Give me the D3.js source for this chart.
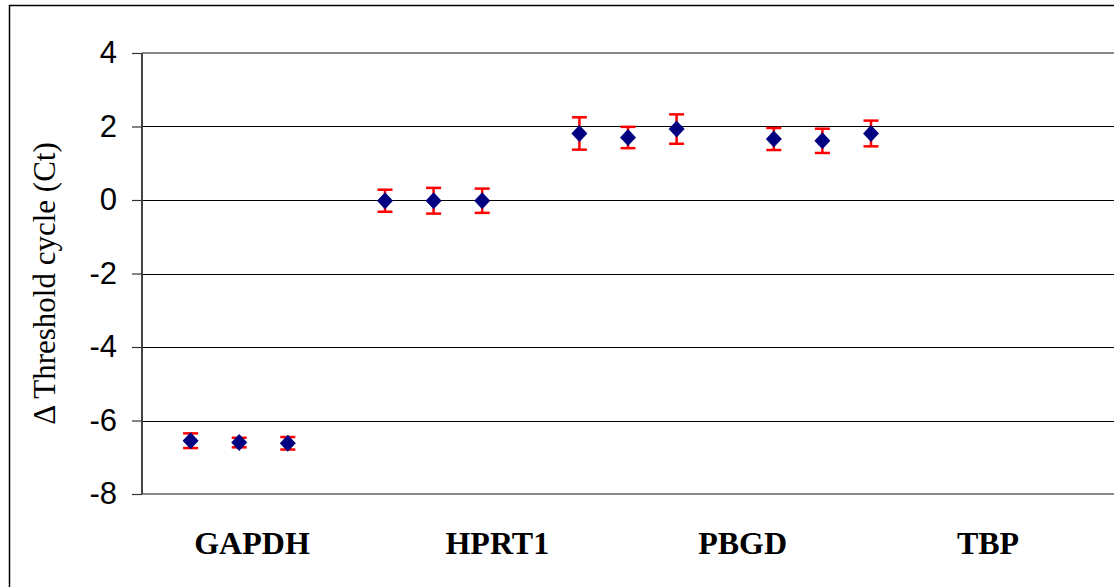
<!DOCTYPE html>
<html>
<head>
<meta charset="utf-8">
<script src="https://cdn.jsdelivr.net/npm/d3@7"></script>
<style>
  body { margin: 0; background: #fff; }
  svg { display: block; }
</style>
</head>
<body>
<svg id="chart"></svg>
<script>
// gene groups shown under the axis
var genes = ["GAPDH", "HPRT1", "PBGD", "TBP"];
// x slot of each point (20 slots across the plot)
var slots = [1, 2, 3, 5, 6, 7, 9, 10, 11, 13, 14, 15];
// delta Ct means and error (+/-)
var means = [-6.55, -6.6, -6.62, -0.02, -0.02, -0.02, 1.81, 1.7, 1.93, 1.66, 1.61, 1.81];
var errs = [0.2, 0.13, 0.17, 0.3, 0.35, 0.33, 0.44, 0.29, 0.4, 0.3, 0.33, 0.35];
var yTicks = [-8, -6, -4, -2, 0, 2, 4];

var W = 1114, H = 587;
var margin = { top: 53, right: 0, bottom: 93, left: 142 },
	width = W - margin.left - margin.right,
	height = H - margin.top - margin.bottom;

var svg = d3.select("#chart")
	.attr("width", W)
	.attr("height", H);

// outer frame (only top and left show)
svg.append("rect")
	.attr("x", 9.5).attr("y", 5.5)
	.attr("width", W + 20).attr("height", H + 20)
	.attr("fill", "none")
	.attr("stroke", "#000")
	.attr("stroke-width", 1.5);

var g = svg.append("g")
	.attr("transform", "translate(" + margin.left + "," + margin.top + ")");

var x = d3.scaleLinear().domain([0, 20]).range([0, width]);
var y = d3.scaleLinear().domain([-8, 4]).range([height, 0]);

// gridlines
g.append("g").selectAll("line")
	.data(yTicks.filter(function (d) { return d > -8 && d < 4; }))
	.enter().append("line")
	.attr("x1", 0).attr("x2", width)
	.attr("y1", function (d) { return Math.round(y(d)) + 0.5; })
	.attr("y2", function (d) { return Math.round(y(d)) + 0.5; })
	.attr("stroke", "#000")
	.attr("stroke-width", 1);

// top border & bottom axis (gray)
[4, -8].forEach(function (v) {
	g.append("line")
		.attr("x1", 0).attr("x2", width)
		.attr("y1", y(v)).attr("y2", y(v))
		.attr("stroke", "#888")
		.attr("stroke-width", 2);
});

// y axis
var yAxis = d3.axisLeft(y)
	.tickValues(yTicks)
	.tickSize(10)
	.tickPadding(15)
	.tickFormat(d3.format("d"));

var ya = g.append("g").call(yAxis);
ya.select(".domain")
	.attr("stroke", "#444")
	.attr("stroke-width", 2)
	.attr("d", "M0," + y(4) + "V" + y(-8));
ya.selectAll(".tick line").attr("stroke", "#333").attr("stroke-width", 1.2);
ya.selectAll(".tick text")
	.attr("font-family", "'Liberation Sans', Arial, sans-serif")
	.attr("font-size", 31)
	.attr("fill", "#000")
	.text(function (d) { return d < 0 ? "-" + Math.abs(d) : d; });

// y title
svg.append("text")
	.attr("transform", "translate(55," + (margin.top + height / 2 + 10) + ") rotate(-90)")
	.attr("text-anchor", "middle")
	.attr("font-family", "'Liberation Serif', 'Times New Roman', serif")
	.attr("font-size", 31)
	.text("\u0394 Threshold cycle (Ct)");

// gene labels
var gx = d3.scalePoint().domain(genes).range([110, 846]);
g.append("g").selectAll("text")
	.data(genes)
	.enter().append("text")
	.attr("x", function (d) { return gx(d); })
	.attr("y", height + 60)
	.attr("text-anchor", "middle")
	.attr("font-family", "'Liberation Serif', 'Times New Roman', serif")
	.attr("font-weight", "bold")
	.attr("font-size", 32)
	.text(function (d) { return d; });

var pts = slots.map(function (s, i) { return { s: s, m: means[i], e: errs[i] }; });

// error bars
var eb = g.append("g").selectAll("g")
	.data(pts)
	.enter().append("g")
	.attr("stroke", "#ff0000")
	.attr("stroke-width", 2.5);
eb.append("line")
	.attr("x1", function (d) { return x(d.s); })
	.attr("x2", function (d) { return x(d.s); })
	.attr("y1", function (d) { return y(d.m + d.e); })
	.attr("y2", function (d) { return y(d.m - d.e); });
[1, -1].forEach(function (sgn) {
	eb.append("line")
		.attr("x1", function (d) { return x(d.s) - 7.5; })
		.attr("x2", function (d) { return x(d.s) + 7.5; })
		.attr("y1", function (d) { return y(d.m + sgn * d.e); })
		.attr("y2", function (d) { return y(d.m + sgn * d.e); });
});

// diamonds
g.append("g").selectAll("path")
	.data(pts)
	.enter().append("path")
	.attr("transform", function (d) { return "translate(" + x(d.s) + "," + y(d.m) + ")"; })
	.attr("d", "M0,-8.5L8,0L0,8.5L-8,0Z")
	.attr("fill", "#000080");
</script>
</body>
</html>
